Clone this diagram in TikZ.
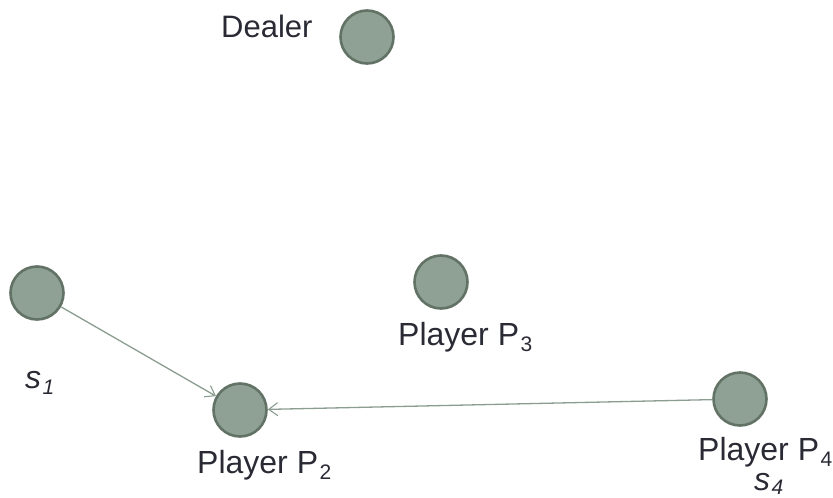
\documentclass[tikz,border=0pt]{standalone}
\usepackage{fontspec}
\setmainfont{Liberation Sans}
\usetikzlibrary{arrows.meta}

\definecolor{nodefill}{HTML}{8FA195}
\definecolor{nodeline}{HTML}{627366}
\definecolor{edgecol}{HTML}{8A9D90}
\definecolor{textcol}{HTML}{2A2A35}

% lowered subscript as in the slide
\newcommand{\psub}[2][-6.5pt]{\kern1.5pt\raisebox{#1}{\fontsize{21}{24}\selectfont #2}}

\begin{document}
\begin{tikzpicture}[x=1pt, y=-1pt,
  player/.style={circle, draw=nodeline, fill=nodefill, line width=2.6pt, minimum size=53pt, inner sep=0pt},
  lbl/.style={text=textcol, font=\fontsize{32}{38}\selectfont, inner sep=0pt, anchor=base west},
  msg/.style={draw=edgecol, line width=1.3pt, -{Straight Barb[length=9pt, width=13pt, line width=1.1pt]}}]
\useasboundingbox (0,0) rectangle (833,498);
% players and dealer
\node[player] (dealer) at (367,37) {};
\node[player] (p1) at (37,293) {};
\node[player] (p2) at (240,410) {};
\node[player] (p3) at (441,282) {};
\node[player] (p4) at (740,399) {};
% labels
\node[lbl, font=\fontsize{31}{37}\selectfont] (dealerlbl) at (221,37) {Dealer};
\node[lbl] (s1) at (25,388) {\itshape s\psub{1}};
\node[lbl] (p2lbl) at (197,473) {Player P\psub{2}};
\node[lbl] (p3lbl) at (398,345) {Player P\psub{3}};
\node[lbl] (p4lbl) at (698,460) {Player P\psub{4}};
\node[lbl] (s4) at (754,490) {\itshape s\psub[-4pt]{4}};
% shares sent to P2
\draw[msg] (p1) -- (p2);
\draw[msg] (p4) -- (p2);
\end{tikzpicture}
\end{document}
